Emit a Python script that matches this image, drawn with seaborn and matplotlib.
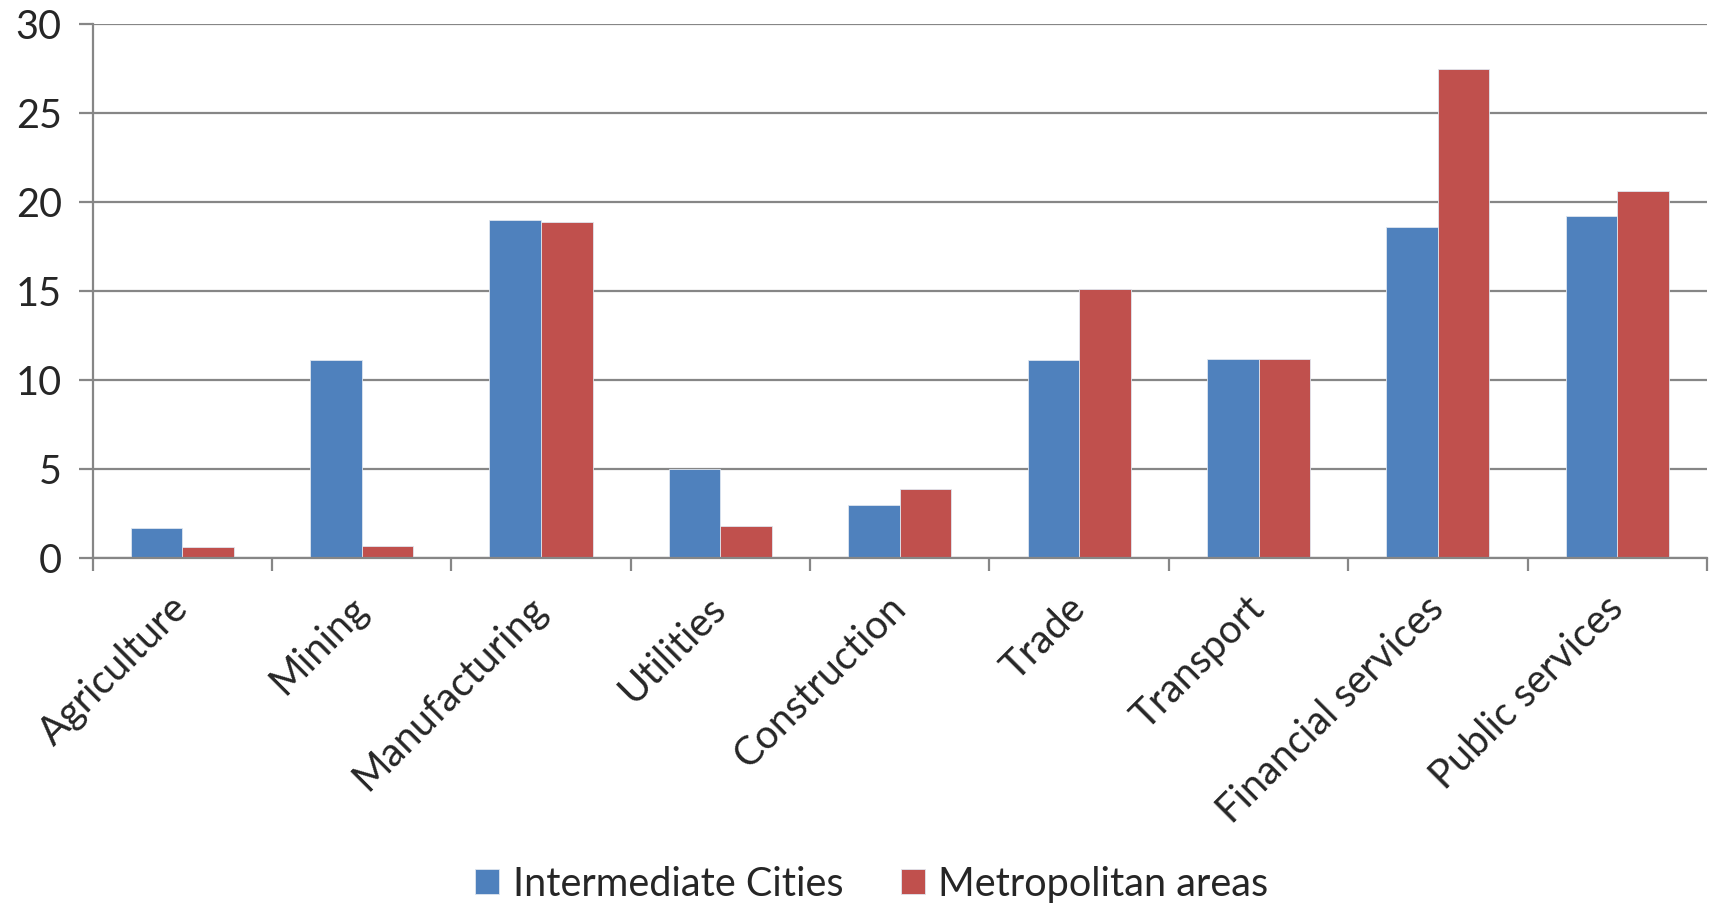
import pandas as pd
import seaborn as sns
import matplotlib.pyplot as plt
from matplotlib.ticker import FixedLocator

sectors = ['Agriculture', 'Mining', 'Manufacturing', 'Utilities', 'Construction',
           'Trade', 'Transport', 'Financial services', 'Public services']
intermediate = [1.7, 11.1, 19.0, 5.0, 3.0, 11.1, 11.2, 18.6, 19.2]
metropolitan = [0.6, 0.7, 18.9, 1.8, 3.9, 15.1, 11.2, 27.5, 20.6]
series = ['Intermediate Cities', 'Metropolitan areas']
colors = ['#4F81BD', '#C0504D']

df = pd.DataFrame({
    'sector': sectors * 2,
    'value': intermediate + metropolitan,
    'group': [series[0]] * len(sectors) + [series[1]] * len(sectors),
})

sns.set_style("white")
plt.rcParams['font.family'] = ['Lato', 'DejaVu Sans']

fig = plt.figure(figsize=(17.13, 9.05), dpi=100)
ax = fig.add_axes([0.054, 0.3834, 0.9425, 0.59])

sns.barplot(data=df, x='sector', y='value', hue='group', palette=colors,
            width=0.575, saturation=1, ax=ax, legend=True,
            edgecolor='#dfe6ef', linewidth=0.6)

grid_c = '#868686'
fs = 28.5
ax.set_ylim(0, 30)
ax.set_xlim(-0.5, len(sectors) - 0.5)
ax.set_yticks(range(0, 31, 5))
ax.yaxis.grid(True, color=grid_c, linewidth=1.6)
ax.set_axisbelow(True)
for s in ['top', 'right']:
    ax.spines[s].set_visible(False)
for s in ['left', 'bottom']:
    ax.spines[s].set_color(grid_c)
    ax.spines[s].set_linewidth(1.6)

ax.tick_params(axis='y', length=10, width=1.6, color=grid_c, pad=12, labelsize=fs, left=True)
ax.tick_params(axis='x', which='major', length=0, pad=32, labelsize=fs)
ax.xaxis.set_minor_locator(FixedLocator([i - 0.5 for i in range(len(sectors) + 1)]))
ax.tick_params(axis='x', which='minor', length=9, width=1.6, color=grid_c, bottom=True)
plt.setp(ax.get_xticklabels(), rotation=45, ha='right', va='center', rotation_mode='anchor')
ax.set_xlabel('')
ax.set_ylabel('')

handles, labels = ax.get_legend_handles_labels()
ax.get_legend().remove()
fig.legend(handles, labels, loc='lower center', bbox_to_anchor=(0.509, -0.037), ncol=2,
           frameon=False, fontsize=fs, handlelength=0.6, handleheight=0.6,
           handletextpad=0.35, columnspacing=1.45)

fig.savefig('out.png', dpi=100)
